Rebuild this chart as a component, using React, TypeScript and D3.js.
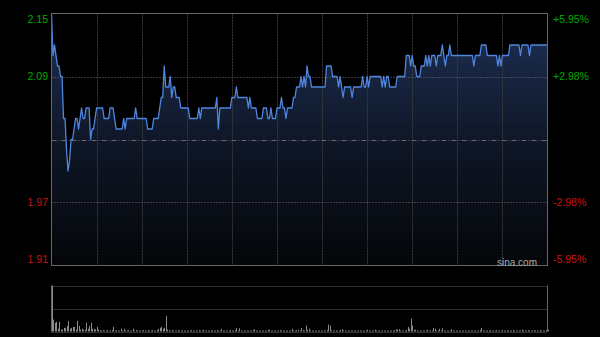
import React from 'react';
import * as d3 from 'd3';

const prices: number[] = [
  2.15,2.11,2.12,2.11,2.10,2.10,2.09,2.09,2.05,2.05,
  2.02,2.00,2.01,2.03,2.03,2.04,2.05,2.05,2.04,2.05,
  2.06,2.05,2.05,2.06,2.06,2.06,2.03,2.04,2.04,2.05,
  2.06,2.06,2.06,2.06,2.06,2.05,2.05,2.05,2.05,2.06,
  2.06,2.06,2.05,2.04,2.04,2.04,2.04,2.04,2.05,2.04,
  2.05,2.05,2.05,2.05,2.05,2.05,2.06,2.05,2.05,2.05,
  2.05,2.05,2.05,2.05,2.04,2.04,2.04,2.04,2.05,2.05,
  2.05,2.05,2.06,2.07,2.07,2.10,2.08,2.08,2.08,2.09,
  2.07,2.08,2.08,2.07,2.07,2.07,2.06,2.06,2.06,2.06,
  2.06,2.06,2.05,2.05,2.05,2.05,2.05,2.05,2.06,2.05,
  2.06,2.06,2.06,2.06,2.06,2.06,2.06,2.06,2.06,2.06,
  2.07,2.04,2.06,2.06,2.06,2.06,2.06,2.06,2.06,2.06,
  2.07,2.07,2.07,2.08,2.07,2.07,2.07,2.07,2.07,2.07,
  2.07,2.06,2.07,2.06,2.06,2.06,2.06,2.05,2.05,2.05,
  2.05,2.06,2.06,2.06,2.05,2.05,2.06,2.05,2.05,2.05,
  2.06,2.06,2.06,2.07,2.06,2.06,2.05,2.06,2.06,2.06,
  2.06,2.07,2.07,2.08,2.08,2.08,2.09,2.08,2.09,2.08,
  2.10,2.09,2.09,2.08,2.08,2.08,2.08,2.08,2.08,2.08,
  2.08,2.08,2.08,2.10,2.10,2.10,2.10,2.09,2.09,2.09,
  2.09,2.08,2.09,2.08,2.07,2.08,2.08,2.08,2.08,2.08,
  2.07,2.08,2.08,2.08,2.08,2.08,2.08,2.09,2.08,2.08,
  2.09,2.08,2.09,2.09,2.09,2.09,2.09,2.09,2.09,2.09,
  2.08,2.09,2.08,2.09,2.09,2.08,2.08,2.08,2.08,2.08,
  2.09,2.09,2.09,2.09,2.09,2.09,2.11,2.11,2.11,2.10,
  2.11,2.10,2.10,2.09,2.09,2.09,2.10,2.10,2.10,2.11,
  2.10,2.11,2.10,2.11,2.11,2.11,2.10,2.11,2.11,2.11,
  2.12,2.11,2.10,2.11,2.11,2.12,2.11,2.11,2.11,2.11,
  2.11,2.11,2.11,2.11,2.11,2.11,2.11,2.11,2.11,2.11,
  2.11,2.10,2.11,2.11,2.11,2.11,2.12,2.12,2.12,2.12,
  2.11,2.11,2.11,2.11,2.11,2.11,2.11,2.10,2.11,2.10,
  2.11,2.11,2.11,2.11,2.11,2.12,2.12,2.12,2.12,2.12,
  2.12,2.12,2.11,2.12,2.12,2.12,2.12,2.12,2.11,2.12,
  2.12,2.12,2.12,2.12,2.12,2.12,2.12,2.12,2.12,2.12,2.12,
];

const volumes: number[] = [
  100,26,19,21,6,21,4,4,8,8,
  12,23,6,8,10,10,4,23,12,4,
  6,4,4,19,6,12,19,6,6,4,
  10,4,3,2,3,2,2,3,2,2,
  3,10,2,3,2,2,6,2,6,2,
  2,3,2,2,6,2,3,2,2,2,
  2,3,2,2,3,2,2,3,2,2,
  3,6,8,10,6,8,34,4,3,2,
  3,2,2,2,3,2,2,2,2,2,
  2,2,2,3,2,2,2,2,3,2,
  2,4,2,2,2,2,2,3,2,2,
  3,2,2,5,2,2,2,2,2,3,
  2,2,3,7,2,7,2,2,2,2,
  2,2,2,2,3,5,2,2,2,2,
  2,2,2,2,3,4,2,2,2,2,
  2,2,3,2,2,2,2,2,2,2,
  6,2,2,3,4,2,8,3,2,13,
  3,6,2,2,2,2,2,2,2,2,
  2,2,2,3,15,13,2,2,2,2,
  2,2,3,5,2,2,2,2,2,2,
  2,2,2,2,2,2,2,2,2,2,
  4,2,2,2,2,4,2,2,2,2,
  2,2,2,2,2,2,2,2,3,5,
  4,5,2,2,2,2,3,10,6,28,
  13,3,4,2,2,2,2,2,2,2,
  4,2,2,2,8,6,2,2,6,2,
  7,2,2,2,2,2,5,2,2,2,
  2,2,2,2,2,2,2,2,2,2,
  2,2,2,2,2,3,8,2,2,2,
  2,2,3,2,2,2,3,2,2,2,
  3,2,2,2,3,2,2,3,2,2,
  2,2,2,4,2,2,2,3,2,2,
  2,3,2,2,2,3,2,2,2,3,4,
];

const prevClose = 2.03;
const tickPrices: number[] = [2.15, 2.09, 1.97, 1.91];
const tickLabels: string[] = ['2.15', '2.09', '1.97', '1.91'];
const pctLabels: string[] = ['+5.95%', '+2.98%', '-2.98%', '-5.95%'];
const gridPrices: number[] = [2.09, 1.97];
const timeDivisions = 11;

export default function App() {
  const W = 600, H = 337;
  const L = 51.5, R = 547.5, T = 13.5, B = 265.5;
  const VT = 285.5, VB = 331.5;
  const font = "'Liberation Sans', Arial, sans-serif";
  const green = '#0a0';
  const red = '#d01010';

  const x = d3.scaleLinear().domain([0, prices.length - 1]).range([L, R]);
  const y = d3.scaleLinear().domain([1.91, 2.15]).range([B, T]);
  const vy = d3.scaleLinear().domain([0, d3.max(volumes) as number]).range([VB, VT]);

  const line = d3.line<number>().x((_, i) => x(i)).y(d => y(d));
  const area = d3.area<number>().x((_, i) => x(i)).y0(B).y1(d => y(d));

  const vLines = d3.range(1, timeDivisions).map(k => L + (k * (R - L)) / timeDivisions);

  return (
    <div style={{ position: 'fixed', left: 0, top: 0, width: W, height: H, background: '#000' }}>
      <svg width={W} height={H} style={{ display: 'block' }}>
        <defs>
          <linearGradient id="fillG" gradientUnits="userSpaceOnUse" x1="0" y1={T} x2="0" y2={B}>
            <stop offset="0" stopColor="#1f3157" />
            <stop offset="0.5" stopColor="#0f1728" />
            <stop offset="1" stopColor="#040609" />
          </linearGradient>
        </defs>
        <rect x={0} y={0} width={W} height={H} fill="#000" />
        <path d={area(prices) as string} fill="url(#fillG)" />
        {vLines.map((vx, k) => (
          <line key={'v' + k} x1={Math.round(vx) + 0.5} x2={Math.round(vx) + 0.5} y1={T} y2={B}
            stroke="#3a3a3a" strokeDasharray="2,1" />
        ))}
        {gridPrices.map((p, k) => (
          <line key={'h' + k} x1={L} x2={R} y1={Math.round(y(p)) + 0.5} y2={Math.round(y(p)) + 0.5}
            stroke="#707070" strokeDasharray="1,2" />
        ))}
        <line x1={L} x2={R} y1={Math.round(y(prevClose)) + 0.5} y2={Math.round(y(prevClose)) + 0.5}
          stroke="#6a6a6a" strokeDasharray="5,2,1,2" />
        <path d={line(prices) as string} fill="none" stroke="#4f86e0" strokeWidth={1.3} strokeLinejoin="round" />
        <rect x={L} y={T} width={R - L} height={B - T} fill="none" stroke="#666" />
        {tickPrices.map((p, k) => {
          let ty = y(p);
          if (k === 0) ty += 6;
          if (k === tickPrices.length - 1) ty -= 6;
          const c = p > prevClose ? green : red;
          return (
            <g key={'t' + k}>
              <text x={48} y={ty} dy="0.35em" textAnchor="end" fill={c} fontSize={10.5} fontFamily={font}>{tickLabels[k]}</text>
              <text x={553} y={ty} dy="0.35em" textAnchor="start" fill={c} fontSize={10.5} fontFamily={font}>{pctLabels[k]}</text>
            </g>
          );
        })}
        <text x={537} y={262} dy="0.35em" textAnchor="end" fill="#aaa" fontSize={10} fontFamily={font}>sina.com</text>

        {/* volume panel */}
        {[VT, (VT + VB) / 2 - 0.5 + 0.5, VB].map((gy, k) => (
          <line key={'vg' + k} x1={L} x2={R} y1={Math.round(gy) + 0.5} y2={Math.round(gy) + 0.5}
            stroke="#606060" strokeDasharray="1,1" />
        ))}
        <line x1={L} x2={L} y1={VT} y2={VB} stroke="#666" />
        <line x1={R} x2={R} y1={VT} y2={VB} stroke="#666" />
        {volumes.map((v, i) => (
          <rect key={'b' + i} x={Math.round(x(i))} y={vy(v)} width={1} height={VB - vy(v)} fill="#8a8a8a" />
        ))}
      </svg>
    </div>
  );
}
